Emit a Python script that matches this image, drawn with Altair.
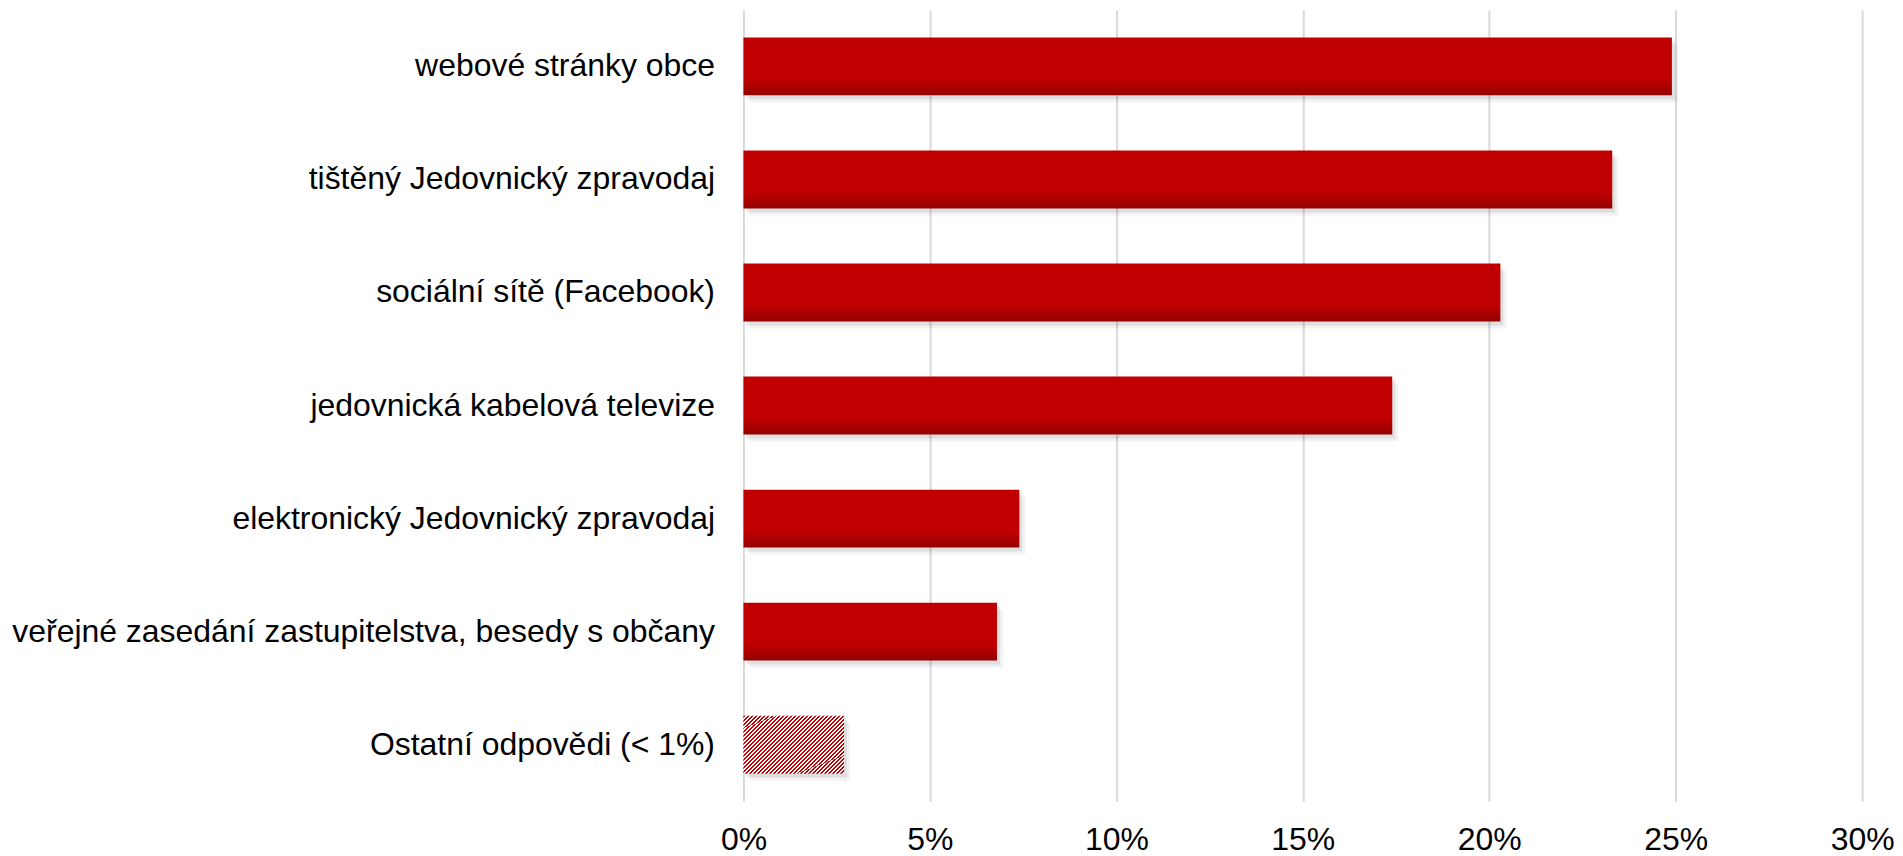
import altair as alt
import pandas as pd

categories = [
    "webové stránky obce",
    "tištěný Jedovnický zpravodaj",
    "sociální sítě (Facebook)",
    "jedovnická kabelová televize",
    "elektronický Jedovnický zpravodaj",
    "veřejné zasedání zastupitelstva, besedy s občany",
    "Ostatní odpovědi (< 1%)",
]
values = [0.249, 0.233, 0.203, 0.174, 0.074, 0.068, 0.027]
hatched = [False, False, False, False, False, False, True]
tick_values = [0, 0.05, 0.10, 0.15, 0.20, 0.25, 0.30]

df = pd.DataFrame({"cat": categories, "val": values, "hatched": hatched})

FONT = "Liberation Sans"

solid_fill = alt.LinearGradient(
    gradient="linear",
    x1=0, y1=0, x2=0, y2=1,
    stops=[
        alt.GradientStop(color="#C00000", offset=0),
        alt.GradientStop(color="#C00000", offset=0.72),
        alt.GradientStop(color="#940000", offset=1),
    ],
)

n_periods = 40
stops = []
for i in range(n_periods):
    a = i / n_periods
    b = (i + 0.5) / n_periods
    c = (i + 1) / n_periods
    stops += [
        alt.GradientStop(color="#C00000", offset=a),
        alt.GradientStop(color="#C00000", offset=b),
        alt.GradientStop(color="#FFFFFF", offset=b),
        alt.GradientStop(color="#FFFFFF", offset=c),
    ]
hatch_fill = alt.LinearGradient(
    gradient="linear", x1=0, y1=0, x2=1.182, y2=0.686, stops=stops
)

y_enc = alt.Y(
    "cat:N",
    sort=categories,
    scale=alt.Scale(paddingInner=0.488, paddingOuter=0.244),
    axis=alt.Axis(
        title=None, domain=False, ticks=False, grid=False,
        labelFont=FONT, labelFontSize=32, labelColor="#000000",
        labelPadding=29, labelLimit=900,
    ),
)
x_enc = alt.X(
    "val:Q",
    scale=alt.Scale(domain=[0, 0.30], nice=False),
    axis=alt.Axis(
        title=None, domain=False, ticks=False, grid=True,
        gridColor="#D9D9D9", gridWidth=2, values=tick_values, format=".0%",
        labelFont=FONT, labelFontSize=32, labelColor="#000000",
        labelPadding=23, labelFlush=False,
    ),
)

base = alt.Chart(df)

shadow1 = base.mark_bar(color="#000000", opacity=0.05, xOffset=6, yOffset=7).encode(x=x_enc, y=y_enc)
shadow2 = base.mark_bar(color="#000000", opacity=0.08, xOffset=3, yOffset=4).encode(x=x_enc, y=y_enc)
solid = base.transform_filter("!datum.hatched").mark_bar(fill=solid_fill).encode(x=x_enc, y=y_enc)
hatch = base.transform_filter("datum.hatched").mark_bar(fill=hatch_fill).encode(x=x_enc, y=y_enc)

chart = (
    alt.layer(shadow1, shadow2, solid, hatch)
    .properties(
        width=1121,
        height=793,
        autosize=alt.AutoSizeParams(type="none"),
        padding={"left": 737, "top": 1, "right": 33, "bottom": 50},
        background="#FFFFFF",
    )
    .configure_view(stroke=None)
)

chart.save("out.html", embed_options={"renderer": "svg", "actions": False})
